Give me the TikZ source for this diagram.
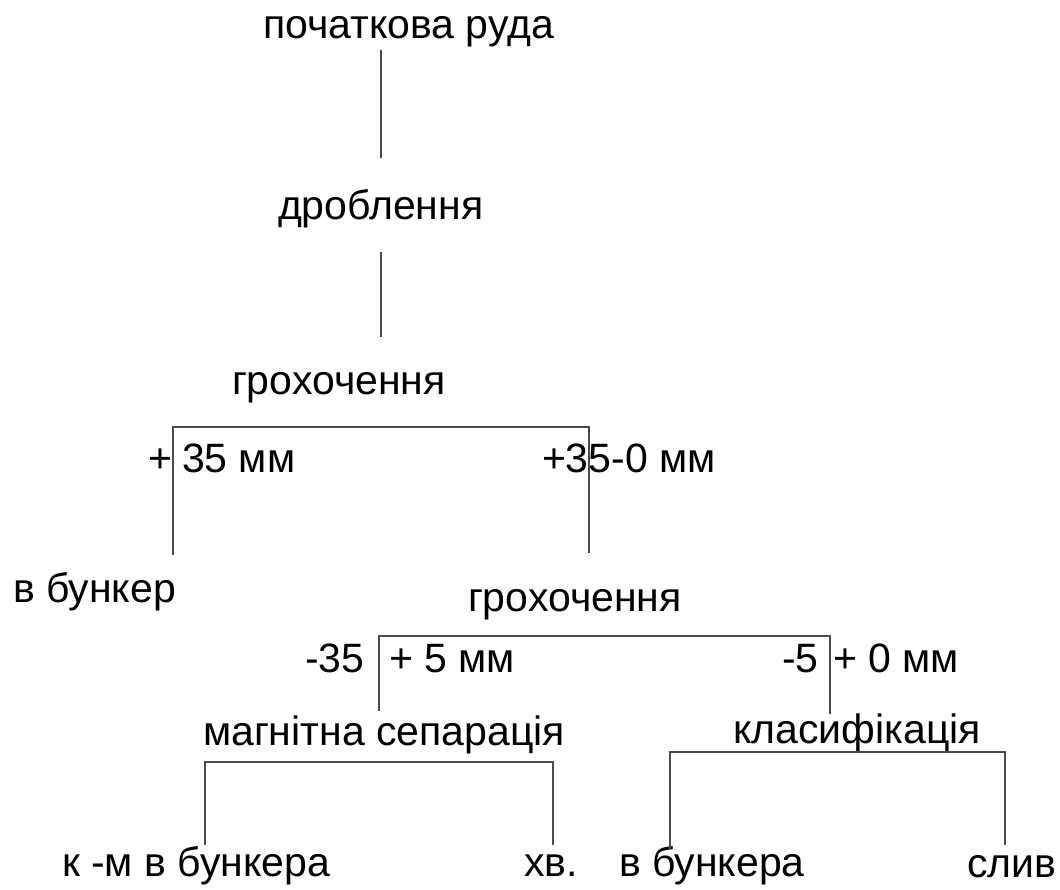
\documentclass[tikz,border=0pt]{standalone}
\usepackage{fontspec}
\setmainfont{Liberation Sans}
\begin{document}
\begin{tikzpicture}[x=1pt,y=-1pt,
  lbl/.style={anchor=base west,inner sep=0pt,outer sep=0pt,font=\fontsize{41}{41}\selectfont},
  link/.style={draw=black!70,line width=1.3pt}]
\useasboundingbox (0,0) rectangle (1060,889);
% process stages
\node[lbl] (ore)   at (263,38)  {початкова руда};
\node[lbl] (crush) at (278,219) {дроблення};
\node[lbl] (scr1)  at (232,394) {грохочення};
\node[lbl] (pl35)  at (148,472) {+};
\node[lbl] (t35)   at (182,472) {35 мм};
\node[lbl] (t350)  at (542,472) {+35-0 мм};
\node[lbl] (bunk)  at (13,602)  {в бункер};
\node[lbl] (scr2)  at (468,611) {грохочення};
\node[lbl] (m35)   at (305,672) {-35};
\node[lbl] (p5)    at (389,672) {+ 5 мм};
\node[lbl] (m5)    at (782,672) {-5};
\node[lbl] (p0)    at (833,672) {+ 0 мм};
\node[lbl] (mag)   at (203,745) {магнітна сепарація};
\node[lbl] (cls)   at (733,743) {класифікація};
\node[lbl] (conc)  at (62,876)  {к -м в бункера};
\node[lbl] (tail)  at (524,876) {хв.};
\node[lbl] (bunk2) at (619,876) {в бункера};
\node[lbl] (drain) at (967,877) {слив};
% bracket corners
\coordinate (a1) at (381,50);  \coordinate (a2) at (381,158);
\coordinate (b1) at (381,252); \coordinate (b2) at (381,337);
\coordinate (c1) at (173,555); \coordinate (c2) at (173,427);
\coordinate (c3) at (589,427); \coordinate (c4) at (589,553);
\coordinate (d1) at (379,711); \coordinate (d2) at (379,636);
\coordinate (d3) at (830,636); \coordinate (d4) at (830,714);
\coordinate (e1) at (205,845); \coordinate (e2) at (205,762);
\coordinate (e3) at (553,762); \coordinate (e4) at (553,845);
\coordinate (f1) at (670,849); \coordinate (f2) at (670,752);
\coordinate (f3) at (1005,752); \coordinate (f4) at (1005,845);
% connectors
\draw[link] (a1) -- (a2);
\draw[link] (b1) -- (b2);
\draw[link] (c1) -- (c2) -- (c3) -- (c4);
\draw[link] (d1) -- (d2) -- (d3) -- (d4);
\draw[link] (e1) -- (e2) -- (e3) -- (e4);
\draw[link] (f1) -- (f2) -- (f3) -- (f4);
\end{tikzpicture}
\end{document}
